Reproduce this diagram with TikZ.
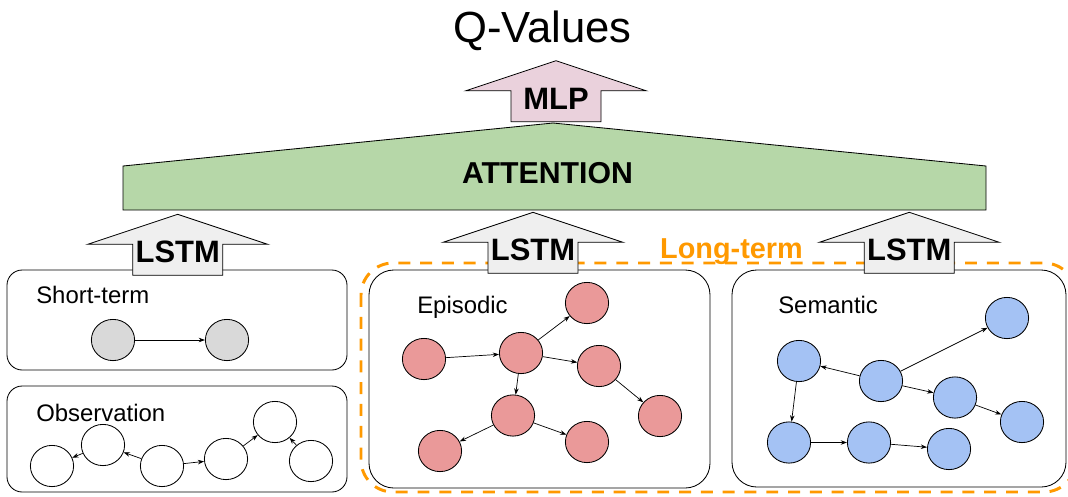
\documentclass[tikz,border=0pt]{standalone}
\usepackage{fontspec}
\setmainfont{Liberation Sans}
\usetikzlibrary{shapes.geometric, arrows.meta}

\definecolor{attgreen}{HTML}{B6D7A8}
\definecolor{mlppink}{HTML}{EAD1DC}
\definecolor{lstmgray}{HTML}{EFEFEF}
\definecolor{stgray}{HTML}{D9D9D9}
\definecolor{epired}{HTML}{EA9999}
\definecolor{semblue}{HTML}{A4C2F4}
\definecolor{ltorange}{HTML}{FF9900}

% block arrow pointing up: name, apex x, apex y, fill, text
\newcommand{\blockarrow}[5]{%
  \draw[line width=0.6pt, fill=#4] (#2,#3) -- ++(90,30) -- ++(-45,0) -- ++(0,31)
    -- ++(-90,0) -- ++(0,-31) -- ++(-45,0) -- cycle;
  \node[bold, anchor=base] (#1) at (#2,#3+48.5) {#5};
}

\begin{document}
\begin{tikzpicture}[x=0.025cm, y=-0.025cm, inner sep=0pt,
  mem/.style={ellipse, draw, line width=0.6pt, minimum width=1.08cm, minimum height=1.03cm},
  panel/.style={draw, line width=0.6pt, fill=white},
  edge/.style={-{Stealth[length=4.5pt,width=3.2pt]}, line width=0.5pt},
  bold/.style={font=\fontsize{22}{26}\selectfont\bfseries},
  lbl/.style={font=\fontsize{17}{20}\selectfont, anchor=base west}]
\useasboundingbox (0,0) rectangle (1068,496);

% long-term memory frame
\draw[ltorange, line width=2.1pt, dash pattern=on 8.5pt off 7pt, rounded corners=0.8cm]
  (361,263) rectangle (1076,492);
\node[font=\fontsize{20.5}{24}\selectfont\bfseries, text=ltorange, anchor=base] (longterm) at (731.5,258) {Long-term};

% memory panels
\draw[panel, rounded corners=0.38cm] (7,270) rectangle (347,370);
\draw[panel, rounded corners=0.38cm] (7,386) rectangle (347,492);
\draw[panel, rounded corners=0.62cm] (369,270) rectangle (710,488);
\draw[panel, rounded corners=0.62cm] (732,270) rectangle (1066,487);

\node[lbl] (shortlbl) at (36,303) {Short-term};
\node[lbl] (obslbl) at (36,421.5) {Observation};
\node[lbl] (epilbl) at (417,313) {Episodic};
\node[lbl] (semlbl) at (778,313) {Semantic};

% short-term
\node[mem, fill=stgray] (st1) at (113,340) {};
\node[mem, fill=stgray] (st2) at (227,340) {};
\draw[edge] (st1) -- (st2);

% observation
\node[mem] (o1) at (52,466) {};
\node[mem] (o2) at (103,445) {};
\node[mem] (o3) at (162,466) {};
\node[mem] (o4) at (226,459) {};
\node[mem] (o5) at (275,422) {};
\node[mem] (o6) at (311,461) {};
\draw[edge] (o2) -- (o1);
\draw[edge] (o3) -- (o2);
\draw[edge] (o3) -- (o4);
\draw[edge] (o4) -- (o5);
\draw[edge] (o6) -- (o5);

% episodic
\node[mem, fill=epired] (e1) at (424,359) {};
\node[mem, fill=epired] (e2) at (521,353) {};
\node[mem, fill=epired] (e3) at (587,303) {};
\node[mem, fill=epired] (e4) at (599,366) {};
\node[mem, fill=epired] (e5) at (513,415.5) {};
\node[mem, fill=epired] (e6) at (660,416) {};
\node[mem, fill=epired] (e7) at (440,451) {};
\node[mem, fill=epired] (e8) at (587,442) {};
\draw[edge] (e1) -- (e2);
\draw[edge] (e2) -- (e3);
\draw[edge] (e2) -- (e4);
\draw[edge] (e2) -- (e5);
\draw[edge] (e4) -- (e6);
\draw[edge] (e5) -- (e7);
\draw[edge] (e5) -- (e8);

% semantic
\node[mem, fill=semblue] (s1) at (1007,318) {};
\node[mem, fill=semblue] (s2) at (799,361) {};
\node[mem, fill=semblue] (s3) at (881,381) {};
\node[mem, fill=semblue] (s4) at (955,397.5) {};
\node[mem, fill=semblue] (s5) at (1022,422) {};
\node[mem, fill=semblue] (s6) at (789,442.5) {};
\node[mem, fill=semblue] (s7) at (869,442.5) {};
\node[mem, fill=semblue] (s8) at (949,449) {};
\draw[edge] (s3) -- (s2);
\draw[edge] (s3) -- (s1);
\draw[edge] (s3) -- (s4);
\draw[edge] (s4) -- (s5);
\draw[edge] (s2) -- (s6);
\draw[edge] (s6) -- (s7);
\draw[edge] (s7) -- (s8);

% attention
\draw[line width=0.6pt, fill=attgreen] (123,210) -- (123,166) -- (553,123) -- (986,166) -- (986,210) -- cycle;
\node[font=\fontsize{21.5}{25}\selectfont\bfseries, anchor=base] (att) at (547.5,183) {ATTENTION};

\blockarrow{lstm1}{177.7}{214.3}{lstmgray}{LSTM}
\blockarrow{lstm2}{533}{212.3}{lstmgray}{LSTM}
\blockarrow{lstm3}{909.3}{212.3}{lstmgray}{LSTM}
\blockarrow{mlp}{556}{60.7}{mlppink}{MLP}

\node[font=\fontsize{31}{35}\selectfont, anchor=base] (qval) at (542.5,42) {Q-Values};
\end{tikzpicture}
\end{document}
